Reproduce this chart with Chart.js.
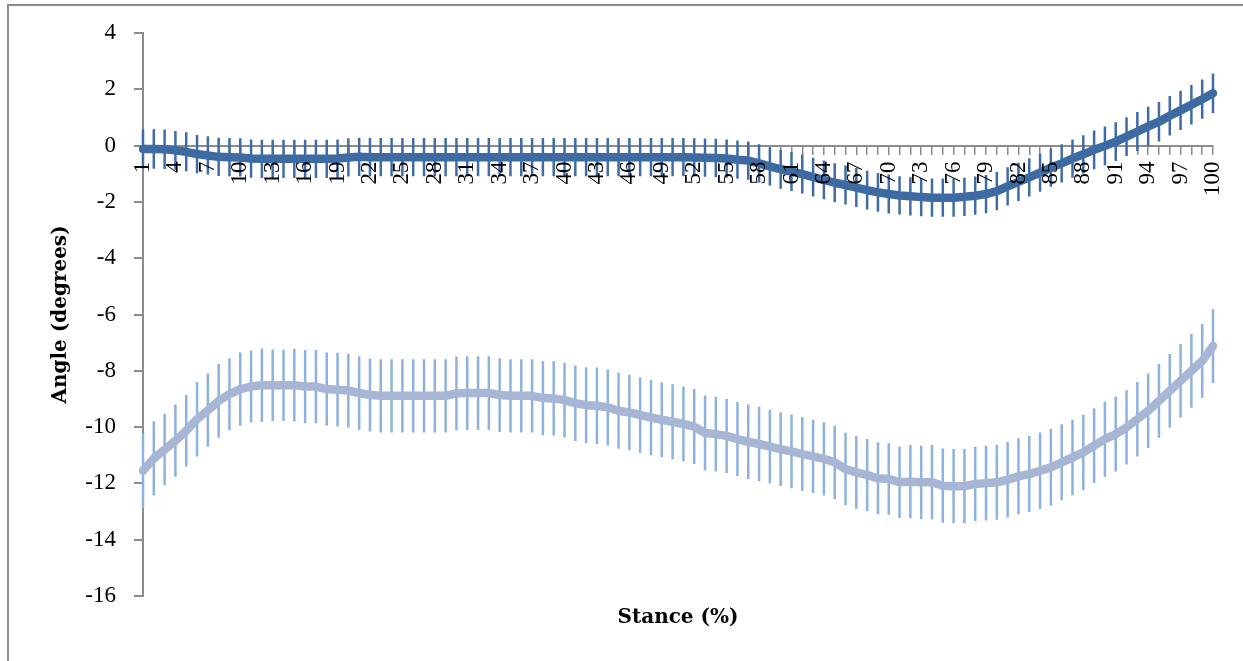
<!DOCTYPE html>
<html>
<head>
<meta charset="utf-8">
<script src="https://cdn.jsdelivr.net/npm/chart.js@4.4.1/dist/chart.umd.min.js"></script>
<style>
  html, body { margin: 0; padding: 0; background: #fff; overflow: hidden; }
  #frame {
    position: absolute; left: 7px; top: 4px; width: 1300px; height: 700px;
    border: 2px solid #8c8c8c; box-sizing: border-box;
  }
  #wrap { position: absolute; left: 0; top: 0; width: 1243px; height: 661px; }
</style>
</head>
<body>
<div id="frame"></div>
<div id="wrap"><canvas id="angle"></canvas></div>
<script>
// stance percentage, 1..100
const stance = Array.from({length: 100}, (_, i) => i + 1);

const upperMean = [
  -0.12, -0.12, -0.13, -0.17, -0.22, -0.30, -0.35, -0.40, -0.41, -0.42,
  -0.46, -0.47, -0.47, -0.47, -0.47, -0.47, -0.47, -0.47, -0.46, -0.42,
  -0.40, -0.41, -0.41, -0.41, -0.41, -0.41, -0.41, -0.41, -0.41, -0.41,
  -0.41, -0.41, -0.41, -0.41, -0.41, -0.41, -0.41, -0.41, -0.41, -0.41,
  -0.41, -0.41, -0.41, -0.41, -0.41, -0.41, -0.41, -0.41, -0.41, -0.41,
  -0.41, -0.42, -0.43, -0.44, -0.46, -0.50, -0.53, -0.63, -0.74, -0.84,
  -0.92, -1.01, -1.12, -1.22, -1.32, -1.40, -1.49, -1.58, -1.66, -1.72,
  -1.77, -1.80, -1.83, -1.85, -1.85, -1.85, -1.82, -1.78, -1.72, -1.62,
  -1.45, -1.29, -1.13, -0.96, -0.78, -0.63, -0.46, -0.31, -0.15, -0.01,
   0.14,  0.32,  0.50,  0.68,  0.85,  1.06,  1.25,  1.45,  1.65,  1.86
];
const upperSD = [
  0.70, 0.70, 0.70, 0.69, 0.69, 0.68, 0.68, 0.68, 0.68, 0.68,
  0.68, 0.68, 0.68, 0.68, 0.68, 0.68, 0.68, 0.68, 0.68, 0.68,
  0.68, 0.68, 0.68, 0.68, 0.68, 0.68, 0.68, 0.68, 0.68, 0.68,
  0.68, 0.68, 0.68, 0.68, 0.68, 0.68, 0.68, 0.68, 0.68, 0.68,
  0.68, 0.68, 0.68, 0.68, 0.68, 0.68, 0.68, 0.68, 0.68, 0.68,
  0.68, 0.68, 0.68, 0.68, 0.68, 0.68, 0.68, 0.68, 0.68, 0.69,
  0.69, 0.69, 0.69, 0.69, 0.69, 0.69, 0.69, 0.69, 0.69, 0.69,
  0.68, 0.68, 0.68, 0.68, 0.68, 0.68, 0.68, 0.68, 0.68, 0.68,
  0.68, 0.68, 0.68, 0.68, 0.68, 0.68, 0.68, 0.68, 0.69, 0.69,
  0.69, 0.69, 0.69, 0.70, 0.70, 0.70, 0.70, 0.70, 0.70, 0.70
];

const lowerMean = [
  -11.55, -11.11, -10.80, -10.48, -10.13,  -9.72,  -9.40,  -9.07,  -8.83,  -8.65,
   -8.56,  -8.51,  -8.51,  -8.51,  -8.51,  -8.56,  -8.56,  -8.65,  -8.67,  -8.70,
   -8.79,  -8.86,  -8.89,  -8.89,  -8.89,  -8.89,  -8.89,  -8.89,  -8.89,  -8.80,
   -8.79,  -8.79,  -8.79,  -8.86,  -8.89,  -8.89,  -8.89,  -8.97,  -8.98,  -9.04,
   -9.15,  -9.22,  -9.24,  -9.30,  -9.42,  -9.48,  -9.57,  -9.66,  -9.74,  -9.81,
   -9.89,  -9.98, -10.21, -10.25, -10.31, -10.43, -10.52, -10.60, -10.69, -10.78,
  -10.86, -10.96, -11.04, -11.13, -11.25, -11.49, -11.61, -11.70, -11.82, -11.84,
  -11.96, -11.94, -11.96, -11.96, -12.08, -12.10, -12.10, -12.02, -11.99, -11.96,
  -11.87, -11.75, -11.67, -11.55, -11.43, -11.25, -11.08, -10.90, -10.66, -10.43,
  -10.25, -10.01,  -9.72,  -9.42,  -9.07,  -8.71,  -8.36,  -8.00,  -7.65,  -7.12
];
const lowerSD = [
  1.32, 1.32, 1.27, 1.28, 1.27, 1.32, 1.30, 1.31, 1.28, 1.30,
  1.28, 1.30, 1.27, 1.27, 1.29, 1.30, 1.30, 1.30, 1.31, 1.31,
  1.31, 1.30, 1.30, 1.30, 1.30, 1.30, 1.30, 1.30, 1.30, 1.31,
  1.31, 1.31, 1.31, 1.31, 1.30, 1.30, 1.30, 1.32, 1.32, 1.33,
  1.34, 1.35, 1.36, 1.35, 1.35, 1.34, 1.34, 1.34, 1.33, 1.33,
  1.33, 1.33, 1.33, 1.33, 1.32, 1.32, 1.32, 1.32, 1.31, 1.31,
  1.31, 1.31, 1.30, 1.30, 1.30, 1.29, 1.29, 1.28, 1.28, 1.27,
  1.27, 1.30, 1.31, 1.32, 1.32, 1.32, 1.32, 1.32, 1.33, 1.33,
  1.34, 1.35, 1.35, 1.36, 1.36, 1.35, 1.34, 1.34, 1.33, 1.33,
  1.33, 1.32, 1.32, 1.32, 1.31, 1.31, 1.31, 1.31, 1.31, 1.31
];

const yTicks = {min: -16, max: 4, step: 2};

const darkBlue = '#3d6aa0';
const darkBar = '#3f6ca6';
const paleBlue = '#a6b6d4';
const paleBar = '#8fb1dd';
const axisGrey = '#8c8c8c';

// vertical error bars (mean ± sd), no caps
function drawBars(chart, mean, sd, color) {
  const {ctx, scales: {x, y}} = chart;
  ctx.save();
  ctx.strokeStyle = color;
  ctx.lineWidth = 2.5;
  ctx.lineCap = 'butt';
  ctx.beginPath();
  mean.forEach((m, i) => {
    const px = x.getPixelForValue(i);
    ctx.moveTo(px, y.getPixelForValue(m + sd[i]));
    ctx.lineTo(px, y.getPixelForValue(m - sd[i]));
  });
  ctx.stroke();
  ctx.restore();
}

const errorBars = {
  id: 'errorBars',
  beforeDatasetsDraw(chart) {
    drawBars(chart, lowerMean, lowerSD, paleBar);
  },
  afterDatasetsDraw(chart) {
    drawBars(chart, upperMean, upperSD, darkBar);
  }
};

const tickFont = {family: '"Liberation Serif", serif', size: 23};
const titleFont = {family: '"DejaVu Serif", serif', size: 20, weight: 'bold'};

new Chart(document.getElementById('angle'), {
  type: 'line',
  data: {
    labels: stance,
    datasets: [{
      data: upperMean,
      borderColor: darkBlue,
      borderWidth: 8.5,
      pointRadius: 0,
      borderJoinStyle: 'round',
      borderCapStyle: 'round',
      tension: 0
    }, {
      data: lowerMean,
      borderColor: paleBlue,
      borderWidth: 8.5,
      pointRadius: 0,
      borderJoinStyle: 'round',
      borderCapStyle: 'round',
      tension: 0
    }]
  },
  options: {
    responsive: true,
    maintainAspectRatio: false,
    animation: false,
    layout: {padding: {left: 45, right: 30, top: 33, bottom: 25}},
    plugins: {legend: {display: false}, tooltip: {enabled: false}},
    scales: {
      x: {
        type: 'category',
        offset: false,
        position: {y: 0},
        // rotated labels need no extra room at the ends
        afterFit: scale => { scale.paddingLeft = 0; scale.paddingRight = 0; },
        grid: {drawOnChartArea: false, drawTicks: true, tickLength: 8, color: axisGrey, lineWidth: 1.5},
        border: {color: axisGrey, width: 2},
        ticks: {
          z: 1, // category labels sit on top of the lines
          autoSkip: false,
          minRotation: 90,
          maxRotation: 90,
          padding: 8,
          color: '#000',
          font: tickFont,
          callback: (v, i) => (i % 3 === 0 ? stance[i] : '')
        }
      },
      xTitle: {
        type: 'category',
        position: 'bottom',
        grid: {display: false, drawTicks: false},
        border: {display: false},
        ticks: {display: false},
        title: {display: true, text: 'Stance (%)', color: '#000', font: titleFont, padding: {top: 10, bottom: 6}}
      },
      y: {
        min: yTicks.min,
        max: yTicks.max,
        afterFit: scale => { scale.width = 98; },
        grid: {drawOnChartArea: false, drawTicks: true, tickLength: 9, color: axisGrey, lineWidth: 2},
        border: {color: axisGrey, width: 2},
        ticks: {stepSize: yTicks.step, padding: 18, color: '#000', font: tickFont},
        title: {display: true, text: 'Angle (degrees)', color: '#000', font: titleFont, padding: 4}
      }
    }
  },
  plugins: [errorBars]
});
</script>
</body>
</html>
